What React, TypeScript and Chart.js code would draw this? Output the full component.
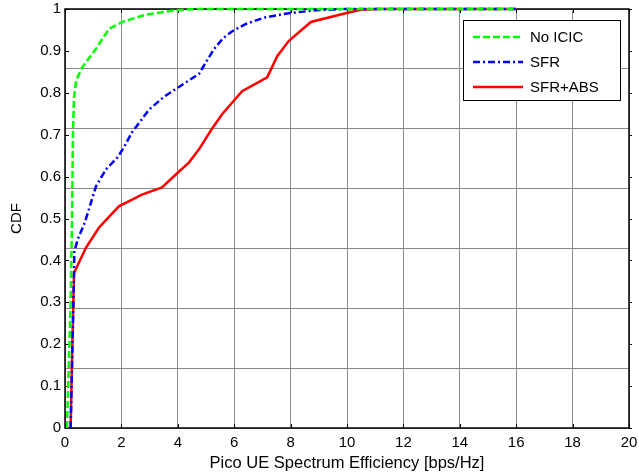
import React, { useEffect, useRef } from "react";
import { Chart, registerables } from "chart.js";

Chart.register(...registerables);

// ---- data ----
const seriesLabels = ["No ICIC", "SFR", "SFR+ABS"];

const noIcicX = [0.07, 0.2, 0.25, 0.28, 0.32, 0.4, 0.6, 0.8, 1.1, 1.56, 2.1, 2.9, 3.9, 4.7, 6, 8, 10, 12, 14, 16];
const noIcicY = [0, 0.3, 0.5, 0.7, 0.79, 0.83, 0.86, 0.878, 0.905, 0.953, 0.971, 0.987, 0.997, 1, 1, 1, 1, 1, 1, 1];

const sfrX = [0.2, 0.3, 0.33, 0.45, 0.7, 1.1, 1.45, 1.85, 2.09, 2.38, 2.98, 3.5, 3.93, 4.47, 4.75, 5.0, 5.28, 5.6, 5.93, 6.4, 7.1, 7.94, 8.9, 9.95, 12, 14, 16];
const sfrY = [0, 0.3, 0.42, 0.45, 0.49, 0.577, 0.617, 0.645, 0.67, 0.706, 0.76, 0.79, 0.809, 0.833, 0.845, 0.873, 0.904, 0.93, 0.947, 0.964, 0.98, 0.99, 0.997, 1, 1, 1, 1];

const sfrAbsX = [0.2, 0.26, 0.32, 0.74, 1.2, 1.91, 2.73, 3.44, 3.93, 4.4, 4.75, 5.2, 5.57, 6.28, 7.17, 7.53, 7.94, 8.72, 9.95, 10.5, 11.1, 12, 14, 16];
const sfrAbsY = [0, 0.2, 0.37, 0.43, 0.478, 0.529, 0.557, 0.574, 0.605, 0.634, 0.665, 0.713, 0.749, 0.804, 0.837, 0.888, 0.924, 0.969, 0.99, 0.998, 1, 1, 1, 1];

const seriesColors = ["#00ff00", "#0000ff", "#ff0000"];
const seriesDashes: number[][] = [[7, 3], [7, 3, 2, 3], []];

const xMin = 0;
const xMax = 20;
const xStep = 2;
const yMin = 0;
const yMax = 1;
const yStep = 0.1;
const gridDivisions = 7;

const xTitle = "Pico UE Spectrum Efficiency [bps/Hz]";
const yTitle = "CDF";

const FONT = "'Liberation Sans', Arial, sans-serif";

const toPoints = (xs: number[], ys: number[]) => xs.map((x, i) => ({ x, y: ys[i] }));

const zeroPad = (s: any) => {
  s.paddingTop = 0;
  s.paddingBottom = 0;
  s.paddingLeft = 0;
  s.paddingRight = 0;
};

const framePlugin = {
  id: "frame",
  beforeDatasetsDraw(chart: any) {
    const { ctx, chartArea } = chart;
    const { left, right, top, bottom } = chartArea;
    const xs = chart.scales.x;
    const ys = chart.scales.y;
    ctx.save();
    ctx.strokeStyle = "#000";
    ctx.lineWidth = 1.5;
    ctx.strokeRect(left, top, right - left, bottom - top);
    ctx.lineWidth = 1;
    for (let v = xMin; v <= xMax + 1e-9; v += xStep) {
      const px = Math.round(xs.getPixelForValue(v)) + 0.5;
      ctx.beginPath();
      ctx.moveTo(px, bottom);
      ctx.lineTo(px, bottom - 4);
      ctx.moveTo(px, top);
      ctx.lineTo(px, top + 4);
      ctx.stroke();
    }
    for (let i = 0; i <= Math.round((yMax - yMin) / yStep); i++) {
      const py = Math.round(ys.getPixelForValue(yMin + i * yStep)) + 0.5;
      ctx.beginPath();
      ctx.moveTo(left, py);
      ctx.lineTo(left + 4, py);
      ctx.moveTo(right, py);
      ctx.lineTo(right + 3, py);
      ctx.stroke();
    }
    ctx.restore();
  },
};

const legendPlugin = {
  id: "boxLegend",
  afterDraw(chart: any) {
    const { ctx } = chart;
    const bx = 463, by = 20, bw = 157, bh = 80;
    ctx.save();
    ctx.fillStyle = "#fff";
    ctx.fillRect(bx, by, bw, bh);
    ctx.strokeStyle = "#000";
    ctx.lineWidth = 1;
    ctx.strokeRect(bx + 0.5, by + 0.5, bw, bh);
    chart.data.datasets.forEach((ds: any, i: number) => {
      const ry = by + 17 + i * 25;
      ctx.beginPath();
      ctx.setLineDash(ds.borderDash || []);
      ctx.strokeStyle = ds.borderColor;
      ctx.lineWidth = 2.5;
      ctx.moveTo(bx + 10, ry);
      ctx.lineTo(bx + 60, ry);
      ctx.stroke();
      ctx.setLineDash([]);
      ctx.fillStyle = "#000";
      ctx.font = `15px ${FONT}`;
      ctx.textBaseline = "middle";
      ctx.textAlign = "left";
      ctx.fillText(ds.label, bx + 67, ry + 1);
    });
    ctx.restore();
  },
};

export default function App() {
  const ref = useRef<HTMLCanvasElement>(null);
  useEffect(() => {
    const canvas = ref.current!;
    const series = [
      toPoints(noIcicX, noIcicY),
      toPoints(sfrX, sfrY),
      toPoints(sfrAbsX, sfrAbsY),
    ];
    const chart = new Chart(canvas, {
      type: "line",
      data: {
        datasets: series.map((data, i) => ({
          label: seriesLabels[i],
          data,
          borderColor: seriesColors[i],
          backgroundColor: seriesColors[i],
          borderDash: seriesDashes[i],
          borderWidth: 2.5,
          pointRadius: 0,
          fill: false,
          tension: 0,
          clip: 4,
          xAxisID: "x",
          yAxisID: "y",
        })),
      },
      options: {
        responsive: false,
        animation: false,
        devicePixelRatio: 1,
        layout: { padding: { top: 9, left: 0, right: 0, bottom: 0 } },
        plugins: { legend: { display: false }, tooltip: { enabled: false } },
        scales: {
          x: {
            type: "linear",
            position: "bottom",
            min: xMin,
            max: xMax,
            ticks: {
              stepSize: xStep,
              color: "#000",
              font: { family: FONT, size: 15 },
              padding: 6,
              maxRotation: 0,
              autoSkip: false,
            },
            grid: { color: "#8a8a8a", lineWidth: 1, drawTicks: false },
            border: { display: false },
            title: {
              display: true,
              text: xTitle,
              color: "#000",
              font: { family: FONT, size: 16.5 },
              padding: { top: 0, bottom: 0 },
            },
            afterFit: (s: any) => {
              s.height = 45;
              zeroPad(s);
            },
          },
          y: {
            type: "linear",
            position: "left",
            min: yMin,
            max: yMax,
            ticks: {
              stepSize: yStep,
              color: "#000",
              font: { family: FONT, size: 15 },
              padding: 4,
              callback: (v: any) => String(Math.round(Number(v) * 10) / 10),
            },
            grid: { display: false, drawTicks: false },
            border: { display: false },
            title: {
              display: true,
              text: yTitle,
              color: "#000",
              font: { family: FONT, size: 15 },
              padding: { top: 8, bottom: 0 },
            },
            afterFit: (s: any) => {
              s.width = 65;
              zeroPad(s);
            },
          },
          grid7: {
            type: "linear",
            position: "right",
            min: 0,
            max: gridDivisions,
            ticks: { display: false, stepSize: 1 },
            grid: { color: "#8a8a8a", lineWidth: 1, drawTicks: false },
            border: { display: false },
            afterFit: (s: any) => {
              s.width = 10;
              zeroPad(s);
            },
          },
        },
      } as any,
      plugins: [framePlugin, legendPlugin],
    });
    return () => chart.destroy();
  }, []);
  return (
    <div style={{ position: "fixed", left: 0, top: 0, width: 639, height: 473, background: "#fff" }}>
      <canvas ref={ref} width={639} height={473} style={{ display: "block" }} />
    </div>
  );
}
